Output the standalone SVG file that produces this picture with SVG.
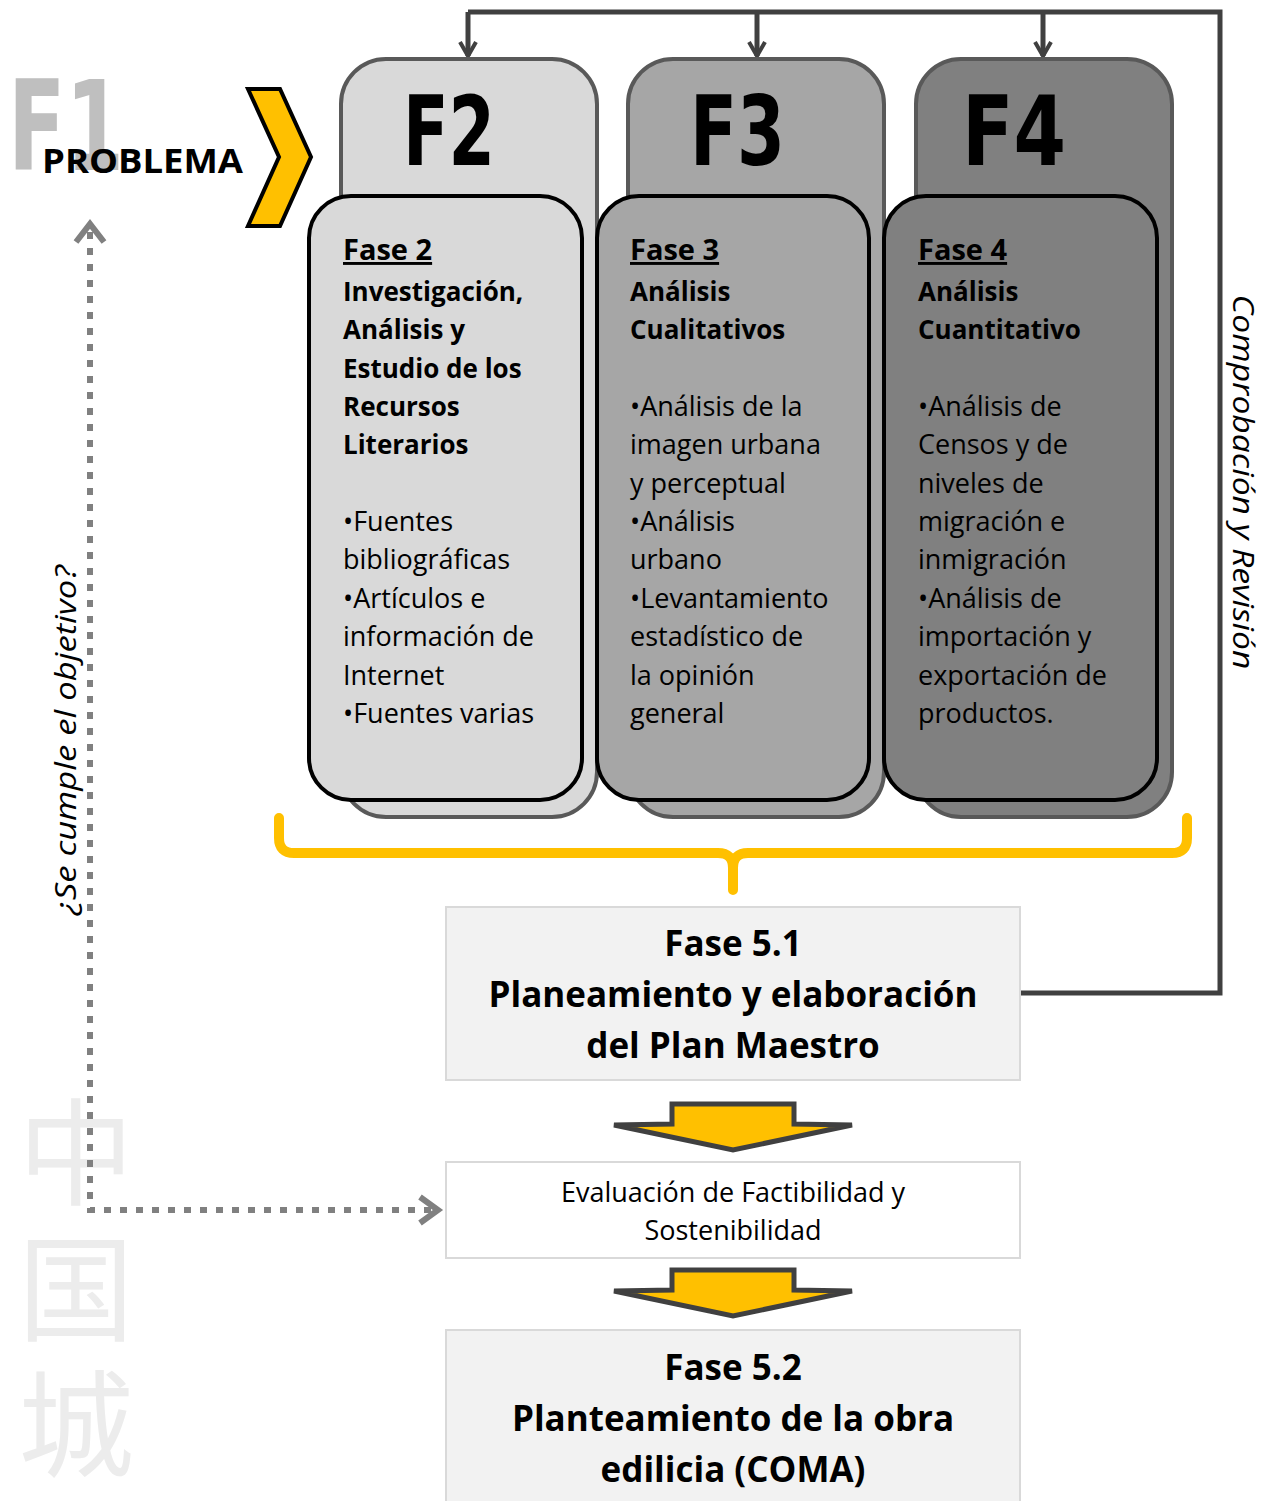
<svg xmlns="http://www.w3.org/2000/svg" width="1268" height="1501" viewBox="0 0 1268 1501">
<style>
.t{font-family:"Open Sans","Liberation Sans",sans-serif;fill:#000}
.b{font-weight:bold}
.big{font-family:"DejaVu Sans",sans-serif;font-weight:bold;font-size:96px;fill:#000}
.body{font-size:27px}
.bb{font-size:26px;font-weight:bold}
.hd{font-size:29px;font-weight:bold;text-decoration:underline}
.c{text-anchor:middle}
.back{stroke:#595959;stroke-width:4}
.front{stroke:#000;stroke-width:4}
.conn{fill:none;stroke:#404040;stroke-width:5}
.dot{fill:none;stroke:#808080;stroke-width:6;stroke-dasharray:7 9}
.yarrow{fill:#ffc000;stroke:#404040;stroke-width:5;stroke-linejoin:miter}
.plain{fill:#f2f2f2;stroke:#d9d9d9;stroke-width:2}
</style>
<defs>
<marker id="ah" viewBox="0 0 20 20" refX="18" refY="10" markerWidth="20" markerHeight="20" markerUnits="userSpaceOnUse" orient="auto">
<path d="M4,2 L18,10 L4,18" fill="none" stroke="#404040" stroke-width="4"/>
</marker>
</defs>

<!-- watermark -->
<g id="watermark">
<text x="76" y="1094" fill="#ececec" font-family="Noto Sans CJK SC,sans-serif" font-size="116" writing-mode="tb" letter-spacing="20">中国城</text>
</g>

<!-- F1 -->
<g id="f1">
<text x="8" y="170" font-family="DejaVu Sans,sans-serif" font-weight="bold" font-size="124" fill="#bfbfbf" textLength="116" lengthAdjust="spacingAndGlyphs">F1</text>
<text class="t b" x="42" y="173" font-size="34" textLength="201" lengthAdjust="spacingAndGlyphs">PROBLEMA</text>
</g>
<g id="chevron">
<polygon points="248,89 280,89 311,157 280,226 248,226 279,157" fill="#ffc000" stroke="#000" stroke-width="4"/>
</g>

<!-- connectors -->
<g id="connectors">
<path class="conn" d="M1020,993 H1220 V12 H468"/>
<line class="conn" x1="468" y1="12" x2="468" y2="56" marker-end="url(#ah)"/>
<line class="conn" x1="757" y1="12" x2="757" y2="56" marker-end="url(#ah)"/>
<line class="conn" x1="1043" y1="12" x2="1043" y2="56" marker-end="url(#ah)"/>
<path class="dot" d="M90,232 V1210 H438"/>
<path d="M76,242 L90,224 L104,242" fill="none" stroke="#808080" stroke-width="6"/>
<path d="M420,1197 L438,1210 L420,1223" fill="none" stroke="#808080" stroke-width="6"/>
<path d="M279,818 V838 Q279,853 294,853 H718 Q733,853 733,868 V890 M733,868 Q733,853 748,853 H1172 Q1187,853 1187,838 V818" fill="none" stroke="#ffc000" stroke-width="10" stroke-linecap="round"/>
<polygon class="yarrow" points="672,1104 794,1104 794,1124 852,1125 733,1150 614,1125 672,1124"/>
<polygon class="yarrow" points="672,1270 794,1270 794,1290 852,1291 733,1316 614,1291 672,1290"/>
</g>

<!-- labels -->
<g id="side-labels">
<text class="t" font-style="italic" font-size="30" text-anchor="middle" textLength="350" lengthAdjust="spacingAndGlyphs" transform="translate(76,740) rotate(-90)">¿Se cumple el objetivo?</text>
<text class="t" font-style="italic" font-size="30" text-anchor="middle" textLength="375" lengthAdjust="spacingAndGlyphs" transform="translate(1233,482) rotate(90)">Comprobación y Revisión</text>
</g>

<!-- F2 -->
<g id="f2">
<rect class="back" x="341" y="59" width="256" height="758" rx="45" fill="#d9d9d9"/>
<text class="big" x="403" y="165" textLength="92" lengthAdjust="spacingAndGlyphs">F2</text>
<rect class="front" x="309" y="196" width="273" height="604" rx="42" fill="#d9d9d9"/>
<text class="t hd" x="343" y="260">Fase 2</text>
<g class="t bb">
<text x="343" y="301">Investigación,</text>
<text x="343" y="339">Análisis y</text>
<text x="343" y="378">Estudio de los</text>
<text x="343" y="416">Recursos</text>
<text x="343" y="454">Literarios</text>
</g>
<g class="t body">
<text x="343" y="531">•Fuentes</text>
<text x="343" y="569">bibliográficas</text>
<text x="343" y="608">•Artículos e</text>
<text x="343" y="646">información de</text>
<text x="343" y="685">Internet</text>
<text x="343" y="723">•Fuentes varias</text>
</g>
</g>

<!-- F3 -->
<g id="f3">
<rect class="back" x="628" y="59" width="256" height="758" rx="45" fill="#a6a6a6"/>
<text class="big" x="690" y="165" textLength="95" lengthAdjust="spacingAndGlyphs">F3</text>
<rect class="front" x="597" y="196" width="272" height="604" rx="42" fill="#a6a6a6"/>
<text class="t hd" x="630" y="260">Fase 3</text>
<g class="t bb">
<text x="630" y="301">Análisis</text>
<text x="630" y="339">Cualitativos</text>
</g>
<g class="t body">
<text x="630" y="416">•Análisis de la</text>
<text x="630" y="454">imagen urbana</text>
<text x="630" y="493">y perceptual</text>
<text x="630" y="531">•Análisis</text>
<text x="630" y="569">urbano</text>
<text x="630" y="608">•Levantamiento</text>
<text x="630" y="646">estadístico de</text>
<text x="630" y="685">la opinión</text>
<text x="630" y="723">general</text>
</g>
</g>

<!-- F4 -->
<g id="f4">
<rect class="back" x="916" y="59" width="256" height="758" rx="45" fill="#808080"/>
<text class="big" x="962" y="165" textLength="104" lengthAdjust="spacingAndGlyphs">F4</text>
<rect class="front" x="884" y="196" width="273" height="604" rx="42" fill="#808080"/>
<text class="t hd" x="918" y="260">Fase 4</text>
<g class="t bb">
<text x="918" y="301">Análisis</text>
<text x="918" y="339">Cuantitativo</text>
</g>
<g class="t body">
<text x="918" y="416">•Análisis de</text>
<text x="918" y="454">Censos y de</text>
<text x="918" y="493">niveles de</text>
<text x="918" y="531">migración e</text>
<text x="918" y="569">inmigración</text>
<text x="918" y="608">•Análisis de</text>
<text x="918" y="646">importación y</text>
<text x="918" y="685">exportación de</text>
<text x="918" y="723">productos.</text>
</g>
</g>

<!-- Fase 5.1 -->
<g id="fase51">
<rect class="plain" x="446" y="907" width="574" height="173"/>
<g class="t b c" font-size="35">
<text x="733" y="956">Fase 5.1</text>
<text x="733" y="1007">Planeamiento y elaboración</text>
<text x="733" y="1058">del Plan Maestro</text>
</g>
</g>

<!-- Evaluación -->
<g id="evaluacion">
<rect x="446" y="1162" width="574" height="96" fill="#fff" stroke="#d9d9d9" stroke-width="2"/>
<g class="t c" font-size="27">
<text x="733" y="1202">Evaluación de Factibilidad y</text>
<text x="733" y="1240">Sostenibilidad</text>
</g>
</g>

<!-- Fase 5.2 -->
<g id="fase52">
<rect class="plain" x="446" y="1330" width="574" height="180"/>
<g class="t b c" font-size="35">
<text x="733" y="1380">Fase 5.2</text>
<text x="733" y="1431">Planteamiento de la obra</text>
<text x="733" y="1482">edilicia (COMA)</text>
</g>
</g>
</svg>
